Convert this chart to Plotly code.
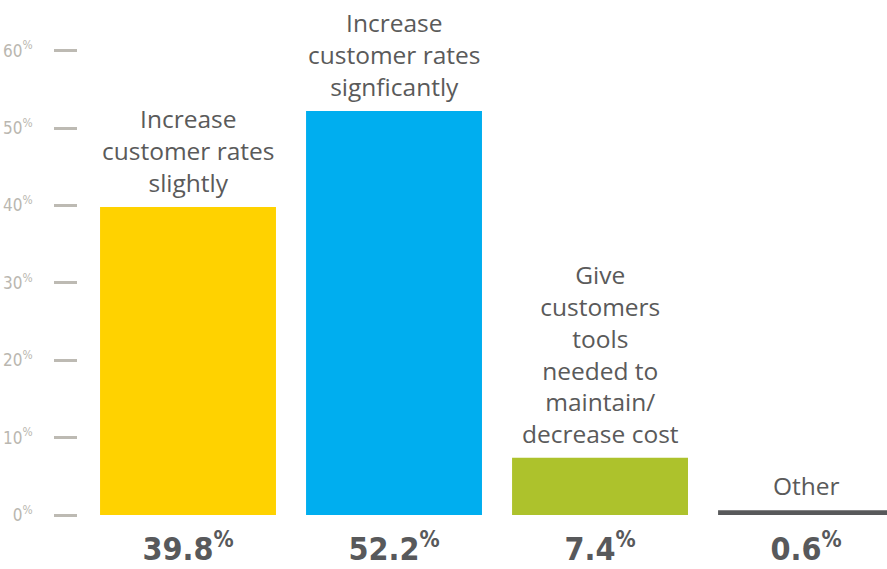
import plotly.graph_objects as go

# Survey responses and their shares (%)
categories = [
    "Increase customer rates slightly",
    "Increase customer rates signficantly",
    "Give customers tools needed to maintain/ decrease cost",
    "Other",
]
bar_labels = [
    "Increase<br>customer rates<br>slightly",
    "Increase<br>customer rates<br>signficantly",
    "Give<br>customers<br>tools<br>needed to<br>maintain/<br>decrease cost",
    "Other",
]
values = [39.8, 52.2, 7.4, 0.6]
colors = ["#FFD200", "#00AEEF", "#ADC22C", "#58595B"]

y_ticks = [0, 10, 20, 30, 40, 50, 60]

COND = "font-stretch:condensed"


def pct(v):
    # number with a small raised percent sign, condensed face
    return f'<span style="{COND}">{v}<sup>%</sup></span>'


y_tick_text = [pct(v) for v in y_ticks]
value_text = [pct(v) for v in values]

fig = go.Figure()
fig.add_trace(go.Bar(
    x=categories,
    y=values,
    marker=dict(color=colors, line=dict(width=0)),
    width=0.854,
    hoverinfo="skip",
))

for cat, lab, val in zip(categories, bar_labels, values):
    fig.add_annotation(
        x=cat, y=val, text=lab, showarrow=False,
        xanchor="center", yanchor="bottom", yshift=6,
        font=dict(family="Open Sans", size=24.5, color="#5A5A5A"),
        align="center",
    )

fig.update_layout(
    width=887, height=569,
    margin=dict(l=78, r=0, t=0, b=54),
    paper_bgcolor="white", plot_bgcolor="white",
    showlegend=False,
    xaxis=dict(
        range=[-0.534, 3.393],
        tickvals=categories, ticktext=value_text,
        showgrid=False, zeroline=False, showline=False,
        ticks="", ticklabelstandoff=12, automargin=False,
        tickfont=dict(family="DejaVu Sans", size=32, color="#58595B",
                      weight="bold"),
    ),
    yaxis=dict(
        range=[0, 66.54],
        tickvals=y_ticks, ticktext=y_tick_text,
        showgrid=False, zeroline=False, showline=False,
        ticks="outside", ticklen=23, tickwidth=3, tickcolor="#BDBAB3",
        ticklabelstandoff=18, automargin=False,
        tickfont=dict(family="DejaVu Sans", size=17, color="#BAB7B0"),
    ),
)

fig.write_html("out.html")
